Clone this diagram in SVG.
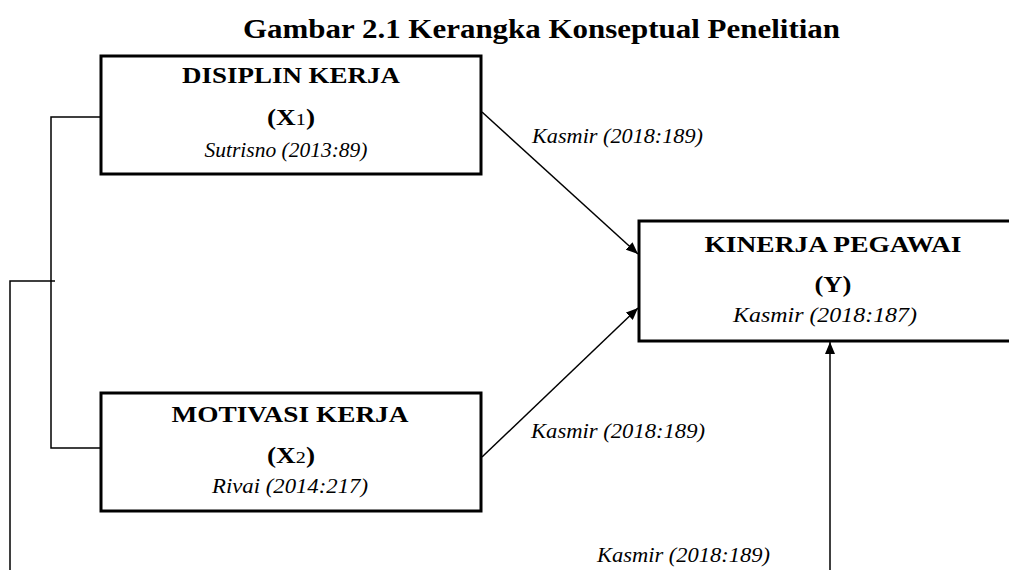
<svg xmlns="http://www.w3.org/2000/svg" width="1009" height="570" viewBox="0 0 1009 570">
<defs>
<style>
.box{fill:#fff;stroke:#000;stroke-width:3}
.ln{fill:none;stroke:#000;stroke-width:1.5}
.t{font-family:"Liberation Serif","Times New Roman",serif;font-weight:bold;font-size:23px;text-anchor:middle;fill:#000}
.r{font-family:"Liberation Serif","Times New Roman",serif;font-style:italic;font-size:20px;fill:#000}
.rc{text-anchor:middle}
.title{font-family:"Liberation Serif","Times New Roman",serif;font-weight:bold;font-size:28px;fill:#000}
</style>
<marker id="ah" viewBox="0 0 12 10" refX="12" refY="5" markerWidth="12" markerHeight="10" markerUnits="userSpaceOnUse" orient="auto">
<path d="M0,0 L12,5 L0,10 Z" fill="#000"/>
</marker>
</defs>
<rect width="1009" height="570" fill="#fff"/>
<text class="title" x="243" y="38" textLength="597" lengthAdjust="spacingAndGlyphs">Gambar 2.1 Kerangka Konseptual Penelitian</text>
<g id="connectors">
<polyline class="ln" points="100,117 51,117 51,448 100,448"/>
<polyline class="ln" points="55,281 10,281 10,570"/>
<line class="ln" x1="482" y1="112" x2="638" y2="254" marker-end="url(#ah)"/>
<line class="ln" x1="482" y1="457" x2="638" y2="308" marker-end="url(#ah)"/>
<line class="ln" x1="830" y1="570" x2="830" y2="342" marker-end="url(#ah)"/>
<text class="r" x="532" y="143" textLength="171" lengthAdjust="spacingAndGlyphs">Kasmir (2018:189)</text>
<text class="r" x="531" y="438" textLength="174" lengthAdjust="spacingAndGlyphs">Kasmir (2018:189)</text>
<text class="r" x="597" y="562" textLength="173" lengthAdjust="spacingAndGlyphs">Kasmir (2018:189)</text>
</g>
<g id="node-x1">
<rect class="box" x="101" y="56" width="380" height="118"/>
<text class="t" x="291" y="83" textLength="218" lengthAdjust="spacingAndGlyphs">DISIPLIN KERJA</text>
<text class="t" x="291" y="125" textLength="48" lengthAdjust="spacingAndGlyphs">(X<tspan font-weight="normal" font-size="17">1</tspan>)</text>
<text class="r rc" x="286" y="157" textLength="163" lengthAdjust="spacingAndGlyphs">Sutrisno (2013:89)</text>
</g>
<g id="node-x2">
<rect class="box" x="101" y="393" width="380" height="118"/>
<text class="t" x="290" y="422" textLength="237" lengthAdjust="spacingAndGlyphs">MOTIVASI KERJA</text>
<text class="t" x="291" y="463" textLength="48" lengthAdjust="spacingAndGlyphs">(X<tspan font-weight="normal" font-size="17">2</tspan>)</text>
<text class="r rc" x="290" y="493" textLength="156" lengthAdjust="spacingAndGlyphs">Rivai (2014:217)</text>
</g>
<g id="node-y">
<rect class="box" x="639" y="221" width="384" height="120"/>
<text class="t" x="833" y="252" textLength="257" lengthAdjust="spacingAndGlyphs">KINERJA PEGAWAI</text>
<text class="t" x="833" y="292" textLength="37" lengthAdjust="spacingAndGlyphs">(Y)</text>
<text class="r rc" x="825" y="322" textLength="184" lengthAdjust="spacingAndGlyphs">Kasmir (2018:187)</text>
</g>
</svg>
